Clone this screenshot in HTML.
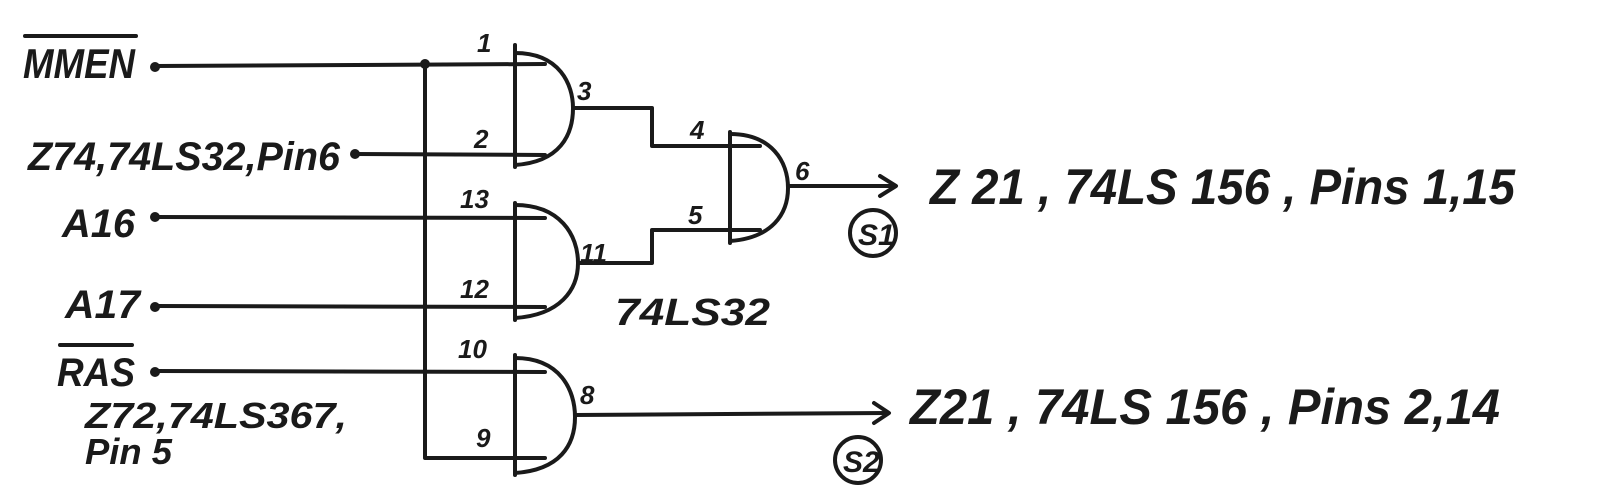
<!DOCTYPE html>
<html><head><meta charset="utf-8"><style>
html,body{margin:0;padding:0;background:#fff;width:1598px;height:495px;overflow:hidden}
svg{display:block}
text{font-family:"Liberation Sans",sans-serif;font-weight:bold;font-style:italic;fill:#1a1a1a}
</style></head><body>
<svg width="1598" height="495" viewBox="0 0 1598 495" xmlns="http://www.w3.org/2000/svg">
<g stroke="#1a1a1a" stroke-width="4" fill="none" stroke-linecap="round" stroke-linejoin="round">
<line x1="155" y1="66" x2="545" y2="64"/>
<line x1="355" y1="154" x2="545" y2="155"/>
<line x1="155" y1="217" x2="545" y2="218"/>
<line x1="155" y1="306" x2="545" y2="307"/>
<line x1="155" y1="371" x2="545" y2="372"/>
<polyline points="425,64 425,458 545,458"/>
<line x1="515" y1="45" x2="515" y2="167"/>
<path d="M515,53 C560,53 573,85 573,108 C573,135 560,162 515,165"/>
<line x1="515" y1="203" x2="515" y2="320"/>
<path d="M515,205 C560,205 578,235 578,263 C578,290 560,315 515,318"/>
<line x1="515" y1="355" x2="515" y2="475"/>
<path d="M515,358 C560,358 575,390 575,417 C575,445 560,470 515,473"/>
<line x1="730" y1="132" x2="730" y2="243"/>
<path d="M730,134 C772,134 788,162 788,188 C788,214 772,238 730,241"/>
<polyline points="573,108 652,108 652,146 760,146"/>
<polyline points="578,263 652,263 652,230 760,230"/>
<line x1="788" y1="186" x2="895" y2="186"/>
<polyline points="880,176 896,186 880,196"/>
<line x1="575" y1="415" x2="888" y2="413"/>
<polyline points="874,403 889,413 874,423"/>
<circle cx="873" cy="233" r="23"/>
<circle cx="858" cy="460" r="23"/>
<line x1="25" y1="36" x2="136" y2="36"/>
<line x1="60" y1="345" x2="132" y2="345"/>
</g>
<g fill="#1a1a1a">
<circle cx="155" cy="67" r="5"/>
<circle cx="355" cy="154" r="5"/>
<circle cx="155" cy="217" r="5"/>
<circle cx="155" cy="307" r="5"/>
<circle cx="155" cy="372" r="5"/>
<circle cx="425" cy="64" r="5"/>
</g>
<text x="23" y="78" font-size="42" textLength="112" lengthAdjust="spacingAndGlyphs">MMEN</text>
<text x="28" y="170" font-size="40" textLength="312" lengthAdjust="spacingAndGlyphs">Z74,74LS32,Pin6</text>
<text x="62" y="237" font-size="40" textLength="73" lengthAdjust="spacingAndGlyphs">A16</text>
<text x="65" y="318" font-size="40" textLength="75" lengthAdjust="spacingAndGlyphs">A17</text>
<text x="57" y="386" font-size="40" textLength="78" lengthAdjust="spacingAndGlyphs">RAS</text>
<text x="85" y="428" font-size="36" textLength="262" lengthAdjust="spacingAndGlyphs">Z72,74LS367,</text>
<text x="85" y="464" font-size="36" textLength="87" lengthAdjust="spacingAndGlyphs">Pin 5</text>
<g font-size="26">
<text x="477" y="52">1</text>
<text x="474" y="148">2</text>
<text x="577" y="100">3</text>
<text x="460" y="208">13</text>
<text x="460" y="298">12</text>
<text x="580" y="262">11</text>
<text x="458" y="358">10</text>
<text x="476" y="447">9</text>
<text x="580" y="404">8</text>
<text x="690" y="139">4</text>
<text x="688" y="224">5</text>
<text x="795" y="180">6</text>
</g>
<text x="615" y="325" font-size="38" textLength="155" lengthAdjust="spacingAndGlyphs">74LS32</text>
<text x="858" y="245" font-size="30">S1</text>
<text x="843" y="472" font-size="30">S2</text>
<text x="930" y="204" font-size="50" textLength="585" lengthAdjust="spacingAndGlyphs">Z 21 , 74LS 156 , Pins 1,15</text>
<text x="910" y="424" font-size="50" textLength="590" lengthAdjust="spacingAndGlyphs">Z21 , 74LS 156 , Pins 2,14</text>
</svg>
</body></html>
